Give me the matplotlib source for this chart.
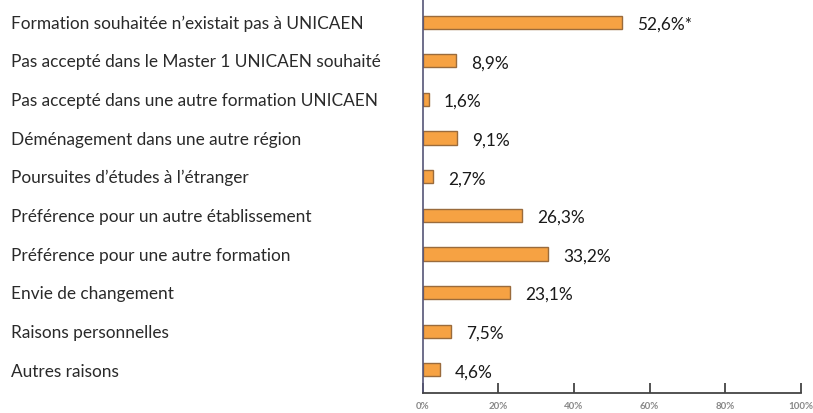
import numpy as np
import matplotlib.pyplot as plt

categories = [
    "Formation souhaitée n’existait pas à UNICAEN",
    "Pas accepté dans le Master 1 UNICAEN souhaité",
    "Pas accepté dans une autre formation UNICAEN",
    "Déménagement dans une autre région",
    "Poursuites d’études à l’étranger",
    "Préférence pour un autre établissement",
    "Préférence pour une autre formation",
    "Envie de changement",
    "Raisons personnelles",
    "Autres raisons",
]
values = [52.6, 8.9, 1.6, 9.1, 2.7, 26.3, 33.2, 23.1, 7.5, 4.6]
value_labels = ["52,6%*", "8,9%", "1,6%", "9,1%", "2,7%", "26,3%", "33,2%", "23,1%", "7,5%", "4,6%"]
xticks = [0, 20, 40, 60, 80, 100]
xtick_labels = ["0%", "20%", "40%", "60%", "80%", "100%"]

plt.rcParams['font.family'] = ['Lato', 'DejaVu Sans']

fig = plt.figure(figsize=(8.13, 4.14), dpi=100)
ax = fig.add_axes([0.5197, 0.0483, 0.4655, 0.9517])

y = np.arange(len(categories))
ax.barh(y, values, height=0.34, color='#F6A243', edgecolor='#9A6B3C', linewidth=1.0)

for yi, v, lab in zip(y, values, value_labels):
    ax.text(v + 4, yi + 0.04, lab, va='center', ha='left', fontsize=12.4, color='#1a1a1a')

for yi, cat in zip(y, categories):
    fig.text(11 / 813, 1 - (23.5 + 38.67 * yi) / 414, cat, va='center', ha='left',
             fontsize=12.4, color='#2a2a2a')

ax.set_xlim(0, 100)
ax.set_ylim(9.6, -0.6)
ax.set_yticks([])
ax.set_xticks(xticks)
ax.set_xticklabels(xtick_labels, fontsize=7, color='#888888', fontweight='bold')
ax.tick_params(axis='x', direction='in', length=7, width=1.3, color='#444444', pad=6)
for s in ['top', 'right']:
    ax.spines[s].set_visible(False)
ax.spines['left'].set_color('#555577')
ax.spines['bottom'].set_color('#444444')
ax.spines['left'].set_linewidth(1.2)
ax.spines['bottom'].set_linewidth(1.3)

fig.savefig('out.png', dpi=100)
